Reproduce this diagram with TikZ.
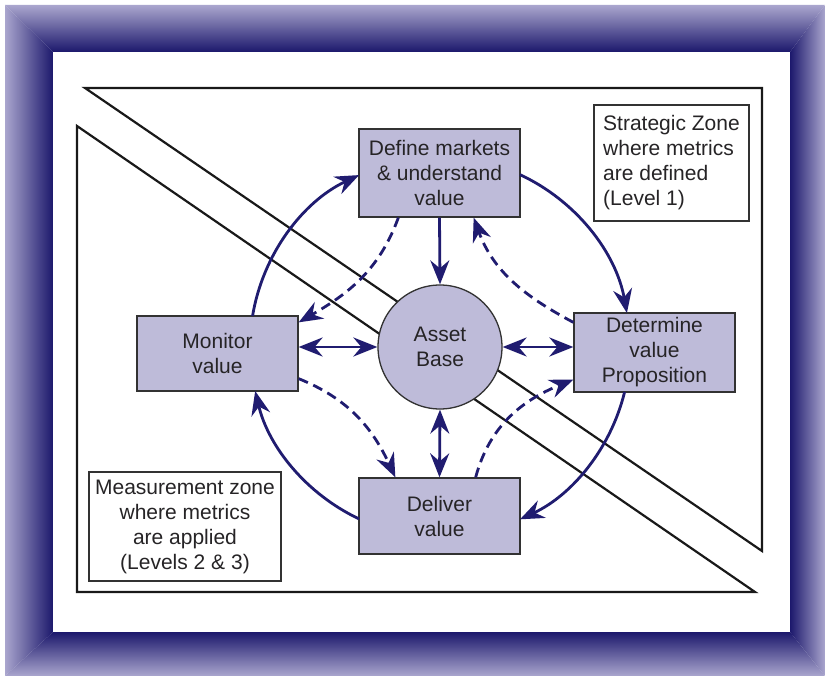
\documentclass[tikz,border=0pt]{standalone}
\usepackage{fontspec}
\setmainfont{Liberation Sans}
\usetikzlibrary{arrows.meta}
\definecolor{navy}{RGB}{32,28,112}
\definecolor{boxfill}{RGB}{190,187,217}
\definecolor{boxline}{RGB}{50,50,50}
\definecolor{txt}{RGB}{38,36,38}
\definecolor{frlight}{RGB}{170,166,206}
\definecolor{frdark}{RGB}{28,24,108}
\tikzset{
  stepbox/.style={draw=boxline, fill=boxfill, line width=1.3pt, text=txt,
    align=center, inner sep=0pt, font=\fontsize{21}{25}\selectfont},
  notebox/.style={draw=boxline, fill=white, line width=1.3pt, text=txt,
    inner sep=0pt, font=\fontsize{21}{25}\selectfont},
  zone/.style={draw=black!90, line width=2.2pt, line join=miter},
  flow/.style={draw=navy, line width=2.8pt, -{Stealth[length=24pt, width=19pt, inset=8pt]}},
  both/.style={draw=navy, line width=2.8pt, {Stealth[length=24pt, width=19pt, inset=8pt]}-{Stealth[length=24pt, width=19pt, inset=8pt]}},
  dflow/.style={flow, dash pattern=on 10pt off 6pt},
}
\begin{document}
\begin{tikzpicture}[x=1pt, y=1pt]
\useasboundingbox (0,0) rectangle (825,-676);
\fill[white] (0,0) rectangle (825,-676);

% bevelled gradient frame
\shade[top color=frlight, bottom color=frdark] (5,-5) -- (825,-5) -- (790,-52) -- (53,-52) -- cycle;
\shade[left color=frlight, right color=frdark] (5,-5) -- (53,-52) -- (53,-632) -- (5,-676) -- cycle;
\shade[left color=frdark, right color=frlight] (790,-52) -- (825,-5) -- (825,-676) -- (790,-632) -- cycle;
\shade[top color=frdark, bottom color=frlight] (53,-632) -- (790,-632) -- (825,-676) -- (5,-676) -- cycle;
\fill[white] (53,-52) rectangle (790,-632);

% the two zones
\draw[zone] (85,-88) -- (762,-88) -- (762,-551) -- cycle;
\draw[zone] (77,-126) -- (77,-592) -- (755,-592) -- cycle;

% boxes and hub
\node[stepbox, minimum width=161pt, minimum height=88pt] (define) at (439.5,-173) {Define markets\\\& understand\\value};
\node[stepbox, minimum width=161pt, minimum height=79pt] (determine) at (654.5,-352.5) {Determine\\value\\Proposition};
\node[stepbox, minimum width=161pt, minimum height=75pt] (monitor) at (217.5,-353.5) {Monitor\\value};
\node[stepbox, minimum width=161pt, minimum height=76pt] (deliver) at (439.5,-516) {Deliver\\value};
\node[stepbox, circle, minimum size=124pt] (asset) at (440,-347) {Asset\\Base};

\node[notebox, align=left, minimum width=155pt, minimum height=116pt] (strategic) at (671.5,-163)
  {Strategic Zone\\where metrics\\are defined\\(Level 1)};
\node[notebox, align=center, minimum width=192pt, minimum height=109pt] (measure) at (185,-526.5)
  {Measurement zone\\where metrics\\are applied\\(Levels 2 \& 3)};

% outer cycle
\draw[flow] (asset.center) ++(170.6:190) arc[start angle=170.6, end angle=115.2, radius=190];
\draw[flow] (asset.center) ++(65.1:190) arc[start angle=65.1, end angle=10.3, radius=190];
\draw[flow] (asset.center) ++(-13.7:190) arc[start angle=-13.7, end angle=-65.1, radius=190];
\draw[flow] (asset.center) ++(-115.2:190) arc[start angle=-115.2, end angle=-166.6, radius=190];

% links with the hub
\draw[flow] (define.south) -- (asset.north);
\draw[both] (monitor.east |- asset.west) -- (asset.west);
\draw[both] (asset.east) -- (asset.east -| determine.west);
\draw[both] (asset.south) -- (deliver.north);

% inner feedback
\draw[dflow] ([xshift=40pt]define.south west) to[out=-110, in=30] ([yshift=-7pt]monitor.north east);
\draw[dflow] ([yshift=-10pt]determine.north west) to[out=152, in=-70] ([xshift=-47pt]define.south east);
\draw[dflow] ([yshift=13pt]monitor.south east) to[out=-22, in=115] ([xshift=37pt]deliver.north west);
\draw[dflow] ([xshift=-45pt]deliver.north east) to[out=75, in=-158] ([yshift=13pt]determine.south west);
\end{tikzpicture}
\end{document}
